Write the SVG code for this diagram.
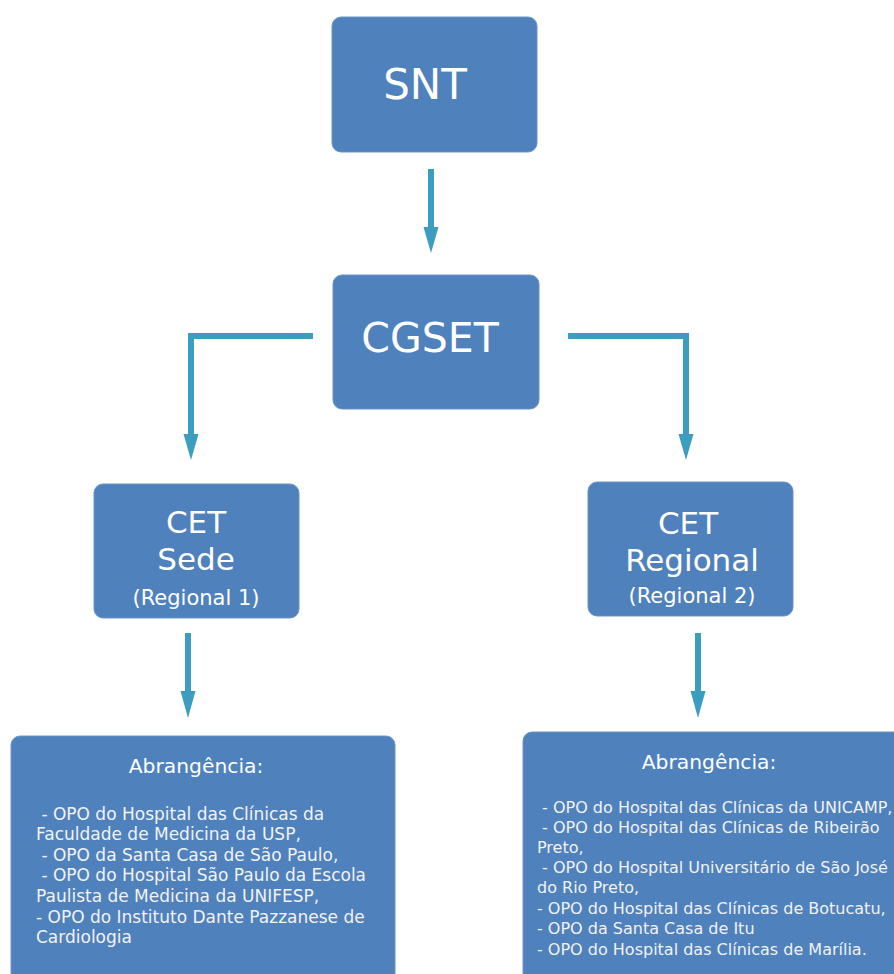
<svg xmlns="http://www.w3.org/2000/svg" width="894" height="974" viewBox="0 0 894 974">
<style>
.box{fill:#4f81bd;stroke:#6a95c8;stroke-width:1}
.t{font-family:"DejaVu Sans",Verdana,sans-serif;fill:#ffffff;text-anchor:middle}
.b{font-family:"DejaVu Sans",Verdana,sans-serif;fill:#f2f2f2}
.c{fill:none;stroke:#3d9dc0;stroke-width:6}
.h{fill:#3d9dc0}
</style>
<rect width="894" height="974" fill="#ffffff"/>
<g id="connectors">
<line class="c" x1="431" y1="169" x2="431" y2="230"/>
<polygon class="h" points="423.5,227 438.5,227 431,253"/>
<polyline class="c" points="313,336 191,336 191,437"/>
<polygon class="h" points="183.5,434 198.5,434 191,460"/>
<polyline class="c" points="568,336 686,336 686,437"/>
<polygon class="h" points="678.5,434 693.5,434 686,460"/>
<line class="c" x1="188" y1="633" x2="188" y2="694"/>
<polygon class="h" points="180.5,691 195.5,691 188,718"/>
<line class="c" x1="698" y1="633" x2="698" y2="694"/>
<polygon class="h" points="690.5,691 705.5,691 698,718"/>
</g>
<g id="snt">
<rect class="box" x="332" y="17" width="205" height="135" rx="9"/>
<text class="t" x="425" y="99" font-size="42">SNT</text>
</g>
<g id="cgset">
<rect class="box" x="333" y="275" width="206" height="134" rx="9"/>
<text class="t" x="430" y="352" font-size="41">CGSET</text>
</g>
<g id="cet-sede">
<rect class="box" x="94" y="484" width="205" height="134" rx="9"/>
<text class="t" x="196" y="533" font-size="31">CET</text>
<text class="t" x="196" y="570" font-size="31">Sede</text>
<text class="t" x="196" y="605" font-size="21" fill="#f2f2f2">(Regional 1)</text>
</g>
<g id="cet-regional">
<rect class="box" x="588" y="482" width="205" height="134" rx="9"/>
<text class="t" x="688" y="534" font-size="31">CET</text>
<text class="t" x="692" y="571" font-size="31">Regional</text>
<text class="t" x="692" y="603" font-size="21" fill="#f2f2f2">(Regional 2)</text>
</g>
<g id="abrangencia-1">
<rect class="box" x="11" y="736" width="384" height="250" rx="9"/>
<text class="t" x="196" y="773" font-size="20.3" fill="#f2f2f2">Abrangência:</text>
<text class="b" font-size="17" xml:space="preserve"><tspan x="36" y="820"> - OPO do Hospital das Clínicas da</tspan><tspan x="36" y="840">Faculdade de Medicina da USP,</tspan><tspan x="36" y="861"> - OPO da Santa Casa de São Paulo,</tspan><tspan x="36" y="881"> - OPO do Hospital São Paulo da Escola</tspan><tspan x="36" y="902">Paulista de Medicina da UNIFESP,</tspan><tspan x="36" y="923">- OPO do Instituto Dante Pazzanese de</tspan><tspan x="36" y="943">Cardiologia</tspan></text>
</g>
<g id="abrangencia-2">
<rect class="box" x="523" y="732" width="390" height="254" rx="9"/>
<text class="t" x="709" y="769" font-size="20.3" fill="#f2f2f2">Abrangência:</text>
<text class="b" font-size="16" xml:space="preserve"><tspan x="537" y="813"> - OPO do Hospital das Clínicas da UNICAMP,</tspan><tspan x="537" y="833"> - OPO do Hospital das Clínicas de Ribeirão</tspan><tspan x="537" y="853">Preto,</tspan><tspan x="537" y="873"> - OPO do Hospital Universitário de São José</tspan><tspan x="537" y="893">do Rio Preto,</tspan><tspan x="537" y="914">- OPO do Hospital das Clínicas de Botucatu,</tspan><tspan x="537" y="934">- OPO da Santa Casa de Itu</tspan><tspan x="537" y="955">- OPO do Hospital das Clínicas de Marília.</tspan></text>
</g>
</svg>
